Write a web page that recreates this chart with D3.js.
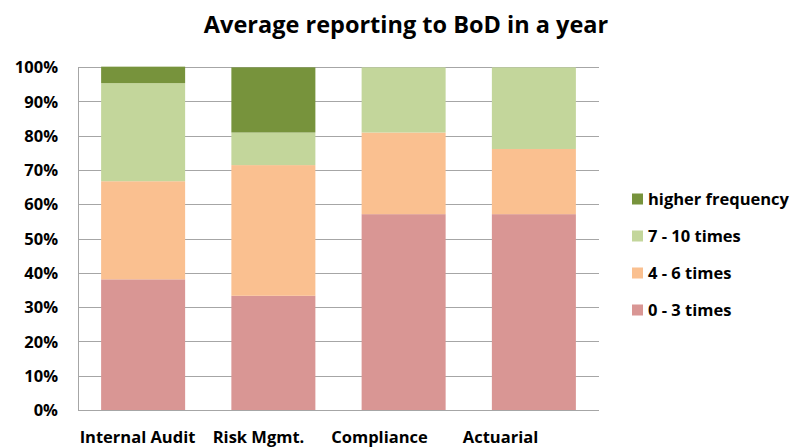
<!DOCTYPE html>
<html><head><meta charset="utf-8">
<script src="https://cdn.jsdelivr.net/npm/d3@7"></script>
<style>body{margin:0;background:#fff}</style>
</head><body><svg id="c" width="792" height="448"></svg>
<script>
const categories = ["Internal Audit", "Risk Mgmt.", "Compliance", "Actuarial"];
const seriesNames = ["0 - 3 times", "4 - 6 times", "7 - 10 times", "higher frequency"];
const s0to3 = [38.1, 33.3, 57.1, 57.1];
const s4to6 = [28.6, 38.1, 23.8, 19.0];
const s7to10 = [28.6, 9.5, 19.0, 23.8];
const sHigher = [4.8, 19.0, 0, 0];
const colors = ["#D99694", "#FAC090", "#C3D69B", "#77933C"];
const yTicks = [0, 10, 20, 30, 40, 50, 60, 70, 80, 90, 100];
const title = "Average reporting to BoD in a year";

const font = "'Open Sans', sans-serif";
const svg = d3.select("#c");
const m = {l: 78, r: 599, t: 67, b: 410};

const rows = categories.map((c, i) => ({cat: c, s0: s0to3[i], s1: s4to6[i], s2: s7to10[i], s3: sHigher[i]}));
const stack = d3.stack().keys(["s0", "s1", "s2", "s3"])(rows);

const x = d3.scaleBand().domain(categories).range([m.l, m.r]).paddingInner(0.355).paddingOuter(0.1775);
const xLab = d3.scaleBand().domain(categories).range([77, 561]);
const y = d3.scaleLinear().domain([0, 100]).range([m.b, m.t]);

// gridlines
svg.append("g").selectAll("line").data(yTicks).join("line")
  .attr("x1", m.l).attr("x2", m.r)
  .attr("y1", d => Math.round(y(d)) + 0.5).attr("y2", d => Math.round(y(d)) + 0.5)
  .attr("stroke", "#A6A6A6").attr("stroke-width", 1);
// left axis line
svg.append("line").attr("x1", m.l + 0.5).attr("x2", m.l + 0.5).attr("y1", m.t).attr("y2", m.b)
  .attr("stroke", "#A6A6A6");

// bars
svg.append("g").selectAll("g").data(stack).join("g")
  .attr("fill", (d, i) => colors[i])
  .selectAll("rect").data(d => d).join("rect")
  .attr("x", d => x(d.data.cat)).attr("width", x.bandwidth())
  .attr("y", d => y(d[1])).attr("height", d => y(d[0]) - y(d[1]));

// y labels
const yAxis = d3.axisLeft(y).tickValues(yTicks).tickFormat(d => d + "%").tickSize(0).tickPadding(0);
const ya = svg.append("g").attr("transform", `translate(58,0)`).call(yAxis);
ya.select(".domain").remove();
ya.selectAll("text").attr("font-family", font).attr("font-weight", "bold").attr("font-size", 16.5).attr("fill", "#000").attr("dy", "0.35em");

// x labels
const xAxis = d3.axisBottom(xLab).tickSize(0).tickPadding(0);
const xa = svg.append("g").attr("transform", `translate(0,431)`).call(xAxis);
xa.select(".domain").remove();
xa.selectAll("text").attr("font-family", font).attr("font-weight", "bold").attr("font-size", 16.5).attr("fill", "#000");

// title
svg.append("text").attr("x", 406).attr("y", 33).attr("text-anchor", "middle")
  .attr("font-family", font).attr("font-weight", "bold").attr("font-size", 23.5).text(title);

// legend (reverse order)
const legendItems = seriesNames.map((n, i) => ({n, c: colors[i]})).reverse();
const lg = svg.append("g").selectAll("g").data(legendItems).join("g")
  .attr("transform", (d, i) => `translate(632,${199 + i * 37})`);
lg.append("rect").attr("x", 0).attr("y", -5.5).attr("width", 11).attr("height", 11).attr("fill", d => d.c);
lg.append("text").attr("x", 16).attr("dy", "0.35em").attr("font-family", font).attr("font-weight", "bold")
  .attr("font-size", 16.5).text(d => d.n);
</script></body></html>
